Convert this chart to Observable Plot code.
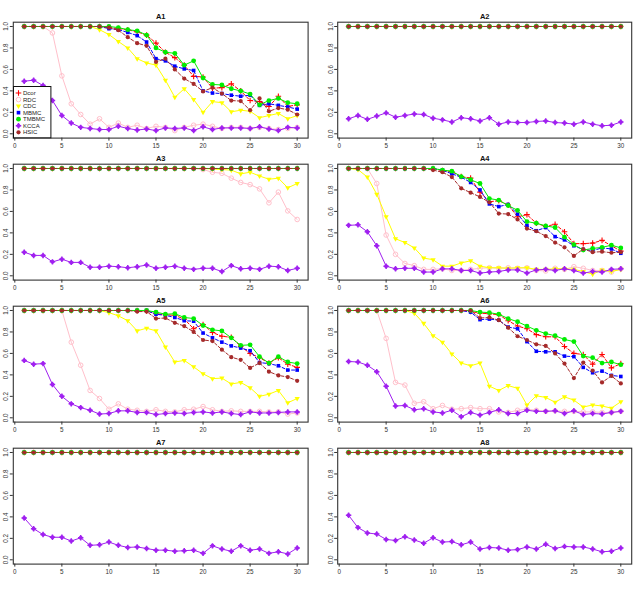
<!DOCTYPE html>
<html>
<head>
<meta charset="utf-8">
<script src="https://cdn.jsdelivr.net/npm/d3@7"></script>
<script src="https://cdn.jsdelivr.net/npm/@observablehq/plot@0.6"></script>
<style>
  body { margin: 0; background: #fff; }
  #wrap { position: relative; width: 637px; height: 596px; font-family: "Liberation Sans", Arial, sans-serif; }
  #wrap svg { position: absolute; }
</style>
</head>
<body>
<div id="wrap"></div>
<script>
// Sample sizes / noise levels on the x axis
const xs = [1,2,3,4,5,6,7,8,9,10,11,12,13,14,15,16,17,18,19,20,21,22,23,24,25,26,27,28,29,30];
const xTicks = [0,5,10,15,20,25,30];
const yTicks = [0,0.2,0.4,0.6,0.8,1.0];
const methods = ["Dcor","RDC","CDC","MBMC","TMBMC","KCCA","HSIC"];
const panelNames = ["A1","A2","A3","A4","A5","A6","A7","A8"];

// Power curves that stay at 1 throughout
const full = [1,1,1,1,1,1,1,1,1,1, 1,1,1,1,1,1,1,1,1,1, 1,1,1,1,1,1,1,1,1,1];

// A1
const a1Dcor  = [1,1,1,1,1,1,1,1,1,0.99, 0.98,0.97,0.95,0.92,0.845,0.76,0.71,0.64,0.535,0.53, 0.425,0.43,0.465,0.40,0.31,0.30,0.255,0.35,0.255,0.27];
const a1RDC   = [1,1,1,0.94,0.54,0.28,0.18,0.09,0.14,0.06, 0.10,0.06,0.08,0.05,0.07,0.06,0.03,0.06,0.08,0.09, 0.07,0.05,0.06,0.06,0.05,0.06,0.05,0.04,0.05,0.06];
const a1CDC   = [1,1,1,1,1,1,1,1,0.97,0.925, 0.86,0.80,0.70,0.66,0.64,0.50,0.34,0.42,0.32,0.20, 0.30,0.29,0.205,0.22,0.21,0.15,0.17,0.19,0.14,0.17];
const a1MBMC  = [1,1,1,1,1,1,1,1,1,0.98, 0.97,0.945,0.915,0.855,0.70,0.68,0.63,0.605,0.59,0.40, 0.38,0.375,0.36,0.35,0.36,0.265,0.28,0.265,0.25,0.23];
const a1TMBMC = [1,1,1,1,1,1,1,1,1,1, 0.99,0.97,0.96,0.92,0.80,0.76,0.75,0.64,0.68,0.52, 0.46,0.455,0.42,0.40,0.37,0.27,0.31,0.33,0.29,0.28];
const a1KCCA  = [0.49,0.50,0.45,0.31,0.17,0.10,0.06,0.05,0.04,0.04, 0.07,0.05,0.035,0.045,0.03,0.055,0.05,0.055,0.03,0.065, 0.04,0.055,0.055,0.055,0.05,0.065,0.045,0.03,0.06,0.055];
const a1HSIC  = [1,1,1,1,1,1,1,1,1,0.99, 0.965,0.90,0.845,0.82,0.67,0.70,0.60,0.515,0.465,0.395, 0.43,0.375,0.31,0.305,0.22,0.33,0.21,0.24,0.225,0.18];

// A2
const a2KCCA  = [0.14,0.17,0.135,0.165,0.195,0.155,0.17,0.185,0.18,0.145, 0.13,0.11,0.15,0.14,0.12,0.15,0.09,0.11,0.105,0.105, 0.115,0.12,0.105,0.10,0.09,0.11,0.09,0.075,0.08,0.11];

// A3
const a3RDC   = [1,1,1,1,1,1,1,1,1,1, 1,1,1,1,1,1,1,1,1,0.99, 0.965,0.955,0.91,0.87,0.85,0.81,0.68,0.78,0.605,0.525];
const a3CDC   = [1,1,1,1,1,1,1,1,1,1, 1,1,1,1,1,1,1,1,1,1, 0.995,0.99,0.985,0.95,0.965,0.93,0.90,0.91,0.82,0.86];
const a3KCCA  = [0.22,0.19,0.19,0.13,0.155,0.125,0.125,0.08,0.08,0.09, 0.085,0.075,0.085,0.10,0.07,0.08,0.09,0.07,0.06,0.07, 0.07,0.04,0.095,0.065,0.07,0.06,0.09,0.085,0.05,0.07];

// A4
const a4Dcor  = [1,1,1,1,1,1,1,1,1,1, 0.98,0.97,0.925,0.91,0.78,0.69,0.70,0.66,0.55,0.57, 0.49,0.46,0.48,0.41,0.30,0.30,0.305,0.33,0.28,0.23];
const a4RDC   = [1,1,1,0.86,0.38,0.20,0.115,0.095,0.06,0.06, 0.065,0.05,0.05,0.06,0.07,0.075,0.07,0.075,0.07,0.075, 0.05,0.045,0.07,0.06,0.085,0.07,0.05,0.05,0.035,0.065];
const a4CDC   = [1,0.99,0.92,0.76,0.55,0.345,0.31,0.26,0.165,0.15, 0.09,0.09,0.12,0.14,0.09,0.075,0.075,0.07,0.075,0.075, 0.06,0.06,0.065,0.065,0.06,0.04,0.015,0.055,0.04,0.06];
const a4MBMC  = [1,1,1,1,1,1,1,1,1,1, 0.985,0.95,0.92,0.87,0.80,0.67,0.645,0.665,0.575,0.47, 0.42,0.45,0.365,0.335,0.28,0.245,0.235,0.26,0.25,0.21];
const a4TMBMC = [1,1,1,1,1,1,1,1,1,1, 0.985,0.975,0.925,0.895,0.86,0.72,0.705,0.655,0.61,0.505, 0.49,0.465,0.45,0.36,0.29,0.24,0.255,0.265,0.285,0.26];
const a4KCCA  = [0.47,0.475,0.41,0.28,0.09,0.065,0.07,0.07,0.035,0.035, 0.065,0.065,0.05,0.05,0.025,0.035,0.04,0.055,0.055,0.025, 0.055,0.06,0.05,0.065,0.05,0.025,0.04,0.035,0.06,0.065];
const a4HSIC  = [1,1,1,1,1,1,1,1,1,0.985, 0.965,0.92,0.815,0.775,0.735,0.685,0.58,0.575,0.525,0.44, 0.415,0.37,0.31,0.265,0.185,0.25,0.22,0.225,0.215,0.22];

// A5
const a5Dcor  = [1,1,1,1,1,1,1,1,1,1, 1,1,1,0.995,0.97,0.96,0.955,0.92,0.83,0.87, 0.795,0.76,0.75,0.665,0.60,0.56,0.51,0.56,0.50,0.47];
const a5RDC   = [1,1,1,1,1,0.705,0.49,0.255,0.18,0.08, 0.13,0.08,0.07,0.06,0.075,0.06,0.055,0.075,0.08,0.105, 0.075,0.06,0.065,0.06,0.06,0.06,0.055,0.055,0.035,0.045];
const a5CDC   = [1,1,1,1,1,1,1,1,1,0.98, 0.95,0.905,0.81,0.835,0.81,0.66,0.52,0.535,0.475,0.41, 0.365,0.37,0.315,0.33,0.28,0.20,0.22,0.255,0.14,0.18];
const a5MBMC  = [1,1,1,1,1,1,1,1,1,1, 1,1,1,1,0.965,0.955,0.935,0.905,0.90,0.79, 0.745,0.705,0.67,0.65,0.625,0.515,0.505,0.485,0.445,0.445];
const a5TMBMC = [1,1,1,1,1,1,1,1,1,1, 1,1,1,1,0.985,0.965,0.97,0.935,0.925,0.86, 0.82,0.81,0.745,0.675,0.68,0.57,0.51,0.57,0.52,0.505];
const a5KCCA  = [0.535,0.50,0.505,0.31,0.20,0.13,0.095,0.07,0.035,0.04, 0.065,0.065,0.05,0.05,0.03,0.04,0.045,0.04,0.05,0.055, 0.045,0.055,0.04,0.03,0.055,0.045,0.045,0.05,0.055,0.055];
const a5HSIC  = [1,1,1,1,1,1,1,1,1,1, 1,1,0.99,0.99,0.925,0.93,0.885,0.855,0.80,0.725, 0.715,0.635,0.565,0.54,0.465,0.51,0.43,0.395,0.38,0.345];

// A6
const a6Dcor  = [1,1,1,1,1,1,1,1,1,1, 1,1,1,0.99,0.975,0.97,0.96,0.905,0.855,0.83, 0.775,0.755,0.755,0.665,0.60,0.59,0.50,0.59,0.465,0.505];
const a6RDC   = [1,1,1,1,0.74,0.33,0.305,0.135,0.15,0.085, 0.115,0.08,0.085,0.095,0.085,0.085,0.055,0.05,0.07,0.08, 0.07,0.06,0.065,0.06,0.06,0.055,0.055,0.05,0.05,0.06];
const a6CDC   = [1,1,1,1,1,1,1,0.975,0.88,0.765, 0.705,0.595,0.51,0.485,0.51,0.295,0.255,0.30,0.275,0.12, 0.205,0.19,0.145,0.195,0.165,0.10,0.12,0.11,0.09,0.15];
const a6MBMC  = [1,1,1,1,1,1,1,1,1,1, 1,1,1,0.985,0.915,0.92,0.91,0.845,0.83,0.71, 0.62,0.615,0.615,0.575,0.57,0.47,0.42,0.435,0.395,0.385];
const a6TMBMC = [1,1,1,1,1,1,1,1,1,1, 1,1,1,1,0.985,0.98,0.965,0.925,0.895,0.855, 0.815,0.785,0.765,0.73,0.71,0.575,0.56,0.51,0.52,0.495];
const a6KCCA  = [0.525,0.52,0.49,0.43,0.295,0.11,0.115,0.075,0.085,0.055, 0.045,0.07,0.01,0.05,0.025,0.05,0.075,0.04,0.04,0.07, 0.06,0.06,0.065,0.04,0.065,0.03,0.04,0.035,0.05,0.06];
const a6HSIC  = [1,1,1,1,1,1,1,1,1,1, 1,1,1,1,0.93,0.935,0.91,0.84,0.76,0.725, 0.685,0.67,0.60,0.505,0.37,0.515,0.44,0.33,0.39,0.32];

// A7
const a7KCCA  = [0.39,0.29,0.235,0.21,0.21,0.175,0.205,0.135,0.14,0.165, 0.135,0.115,0.12,0.105,0.09,0.09,0.08,0.085,0.09,0.06, 0.13,0.10,0.08,0.13,0.09,0.10,0.06,0.075,0.055,0.11];

// A8
const a8KCCA  = [0.415,0.30,0.25,0.24,0.19,0.18,0.215,0.185,0.155,0.205, 0.165,0.17,0.14,0.165,0.10,0.115,0.11,0.09,0.095,0.12, 0.10,0.145,0.105,0.125,0.12,0.12,0.10,0.075,0.08,0.11];

// Series per panel, in legend order
const panelSeries = [
  [a1Dcor, a1RDC, a1CDC, a1MBMC, a1TMBMC, a1KCCA, a1HSIC],
  [full, full, full, full, full, a2KCCA, full],
  [full, a3RDC, a3CDC, full, full, a3KCCA, full],
  [a4Dcor, a4RDC, a4CDC, a4MBMC, a4TMBMC, a4KCCA, a4HSIC],
  [a5Dcor, a5RDC, a5CDC, a5MBMC, a5TMBMC, a5KCCA, a5HSIC],
  [a6Dcor, a6RDC, a6CDC, a6MBMC, a6TMBMC, a6KCCA, a6HSIC],
  [full, full, full, full, full, a7KCCA, full],
  [full, full, full, full, full, a8KCCA, full]
];

// Line and marker styling per method
const styles = {
  Dcor:  {color: "#ff0000", dash: "3,2", symbol: "plus",      r: 1.95, fill: "none",    sw: 1.1},
  RDC:   {color: "#ffc0cb", dash: null,  symbol: "circle",    r: 2.3,  fill: "none",    sw: 1},
  CDC:   {color: "#ffff00", dash: null,  symbol: "triangle2", r: 2.5,  fill: "#ffff00", sw: 0, rotate: 180},
  MBMC:  {color: "#0000ff", dash: "3,2", symbol: "square2",   r: 2.3,  fill: "#0000ff", sw: 0},
  TMBMC: {color: "#00ee00", dash: null,  symbol: "circle",    r: 2.4,  fill: "#00ee00", sw: 0},
  KCCA:  {color: "#a020f0", dash: null,  symbol: "circle",    r: 2.0,  fill: "#a020f0", sw: 0},
  HSIC:  {color: "#a52a2a", dash: "3,2", symbol: "circle",    r: 2.1,  fill: "#a52a2a", sw: 0}
};
const kccaPlusR = 1.9;

const wrap = document.getElementById("wrap");
const font = "Liberation Sans, Arial, sans-serif";

function drawPanel(p) {
  const col = p % 2, row = Math.floor(p / 2);
  const width = col === 0 ? 318 : 319;
  const marks = [Plot.frame({stroke: "#333", strokeWidth: 1.1})];
  methods.forEach((m, k) => {
    const st = styles[m];
    const d = panelSeries[p][k].map((v, i) => ({x: xs[i], y: v}));
    marks.push(Plot.line(d, {x: "x", y: "y", stroke: st.color, strokeWidth: 1, strokeDasharray: st.dash || undefined}));
    const isStroked = st.fill === "none";
    marks.push(Plot.dot(d, {
      x: "x", y: "y", symbol: st.symbol, r: st.r, rotate: st.rotate || 0,
      fill: isStroked ? "none" : st.fill,
      stroke: isStroked ? st.color : "none",
      strokeWidth: st.sw
    }));
    if (m === "KCCA") {
      marks.push(Plot.dot(d, {x: "x", y: "y", symbol: "plus", r: kccaPlusR, stroke: st.color, strokeWidth: 1.5}));
    }
  });
  marks.push(Plot.axisX({ticks: xTicks, tickSize: 3, tickPadding: 2, fontSize: 6.3, label: null, stroke: "#333"}));
  marks.push(Plot.axisY({ticks: yTicks, tickSize: 3, tickPadding: 2, tickRotate: -90, fontSize: 6.3,
    tickFormat: d3.format(".1f"), label: null, stroke: "#333"}));
  marks.push(Plot.text([panelNames[p]], {text: d => d, frameAnchor: "top", dy: -6, lineAnchor: "middle",
    fontWeight: "bold", fontSize: 7.5, fill: "#111"}));

  const svg = Plot.plot({
    width, height: 152,
    marginLeft: col === 0 ? 12.8 : 19.2,
    marginRight: col === 0 ? 10.4 : 5.8,
    marginTop: 21.7,
    marginBottom: 14.4,
    style: {background: "transparent", overflow: "visible", fontFamily: font, color: "#333"},
    x: {domain: [-0.16, 31.16]},
    y: {domain: [-0.04, 1.04]},
    marks
  });
  svg.style.left = (col * 318) + "px";
  svg.style.top = (row * 142) + "px";
  wrap.appendChild(svg);
}

for (let p = 0; p < 8; p++) drawPanel(p);

// Legend inside the A1 panel, lower-left corner
(function legend() {
  const w = 37.4, h = 51.3, step = 6.55;
  const svg = d3.create("svg").attr("width", w + 1).attr("height", h + 1)
    .style("left", "12.8px").style("top", "85.7px").style("overflow", "visible");
  svg.append("rect").attr("x", 0.5).attr("y", 0.5).attr("width", w).attr("height", h)
    .attr("fill", "#fff").attr("stroke", "#111").attr("stroke-width", 1);
  const symMap = {plus: d3.symbolPlus, circle: d3.symbolCircle, triangle2: d3.symbolTriangle2, square2: d3.symbolSquare2};
  methods.forEach((m, k) => {
    const st = styles[m];
    const cy = 7 + k * step, cx = 5.5;
    const g = svg.append("g").attr("transform", `translate(${cx},${cy}) rotate(${st.rotate || 0})`);
    const isStroked = st.fill === "none";
    g.append("path").attr("d", d3.symbol(symMap[st.symbol], Math.PI * st.r * st.r)())
      .attr("fill", isStroked ? "none" : st.fill)
      .attr("stroke", isStroked ? st.color : "none")
      .attr("stroke-width", st.sw);
    if (m === "KCCA") {
      g.append("path").attr("d", d3.symbol(d3.symbolPlus, Math.PI * kccaPlusR * kccaPlusR)())
        .attr("fill", "none").attr("stroke", st.color).attr("stroke-width", 1.5);
    }
    svg.append("text").attr("x", 10).attr("y", cy).attr("dy", "0.35em")
      .attr("font-size", 6).attr("font-family", font).attr("fill", "#222").text(m);
  });
  wrap.appendChild(svg.node());
})();
</script>
</body>
</html>
